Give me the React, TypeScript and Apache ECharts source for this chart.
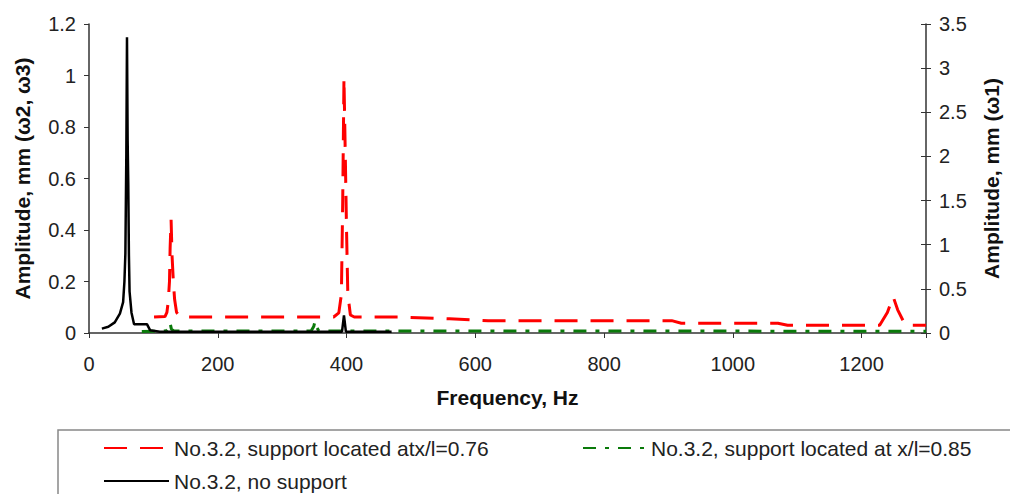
import React, { useEffect, useRef } from "react";
import * as echarts from "echarts";

// [frequency Hz, amplitude mm]
// support at x/l=0.76 (left axis, ω2, ω3)
const supportAt076: number[][] = [
  [101, 0.062], [118, 0.064], [121, 0.08], [123, 0.12], [125, 0.2], [126, 0.33],
  [127.5, 0.44], [129, 0.3], [131, 0.2], [133, 0.13], [136, 0.08], [142, 0.062],
  [380, 0.062], [388, 0.078], [392, 0.15], [394, 0.5], [396, 0.99], [398, 0.7],
  [400, 0.4], [402, 0.15], [406, 0.07], [412, 0.062], [480, 0.062], [560, 0.055],
  [620, 0.048], [905, 0.048], [920, 0.038], [1070, 0.038], [1085, 0.03],
  [1228, 0.03], [1240, 0.08], [1249, 0.141], [1256, 0.09], [1268, 0.03], [1300, 0.03],
];

// support at x/l=0.85 (left axis, ω2, ω3)
const supportAt085: number[][] = [
  [82, 0.006], [120, 0.008], [124, 0.02], [126, 0.038], [128, 0.015], [132, 0.008],
  [345, 0.008], [349, 0.025], [351, 0.045], [353, 0.025], [357, 0.008], [1300, 0.007],
];

// no support (right axis, ω1)
const noSupport: number[][] = [
  [20, 0.05], [30, 0.07], [40, 0.12], [48, 0.22], [53, 0.35], [55, 0.58],
  [56.5, 0.9], [58, 2.04], [59, 3.35], [60, 2.19], [61, 1.69], [62, 0.88],
  [63, 0.47], [66, 0.23], [70, 0.1], [90, 0.1], [95, 0.03], [110, 0.015],
  [393, 0.015], [396, 0.2], [399, 0.015], [470, 0.015],
];

const seriesNames = [
  "No.3.2, support located atx/l=0.76",
  "No.3.2, support located at x/l=0.85",
  "No.3.2, no support",
];

const xTickMax = 1200;

const FONT = "'Liberation Sans', Arial, sans-serif";

export default function App() {
  const ref = useRef<HTMLDivElement>(null);

  useEffect(() => {
    document.body.style.margin = "0";
    if (!ref.current) return;
    const chart = echarts.init(ref.current, null, { renderer: "svg" });
    const axisLabel = { color: "#222", fontSize: 20, fontFamily: FONT };
    const nameStyle = { color: "#111", fontSize: 21, fontWeight: "bold" as const, fontFamily: FONT };
    const axisLine = { show: true, lineStyle: { color: "#333", width: 1.5 } };
    const legendText = { color: "#222", fontSize: 21, fontFamily: FONT, lineHeight: 24 };
    const legendBase = {
      itemHeight: 14,
      padding: 0,
      textStyle: legendText,
      itemStyle: { opacity: 0 },
    };

    chart.setOption({
      animation: false,
      backgroundColor: "#fff",
      grid: { left: 89, right: 77, top: 24, bottom: 161 },
      xAxis: {
        type: "value",
        min: 0,
        max: 1300,
        interval: 200,
        name: "Frequency, Hz",
        nameLocation: "middle",
        nameGap: 54,
        nameTextStyle: nameStyle,
        axisLine,
        axisTick: { show: true, length: 5, lineStyle: { color: "#333" } },
        axisLabel: {
          ...axisLabel,
          margin: 21,
          formatter: (v: number) => (v > xTickMax ? "" : String(v)),
        },
        splitLine: { show: false },
      },
      yAxis: [
        {
          type: "value",
          position: "left",
          min: 0,
          max: 1.2,
          interval: 0.2,
          name: "Amplitude, mm (ω2, ω3)",
          nameLocation: "middle",
          nameGap: 56,
          nameRotate: 90,
          nameTextStyle: nameStyle,
          axisLine,
          axisTick: { show: true, length: 5, lineStyle: { color: "#333" } },
          axisLabel: { ...axisLabel, margin: 13 },
          splitLine: { show: false },
        },
        {
          type: "value",
          position: "right",
          min: 0,
          max: 3.5,
          interval: 0.5,
          name: "Amplitude, mm (ω1)",
          nameLocation: "middle",
          nameGap: 55,
          nameRotate: 90,
          nameTextStyle: nameStyle,
          axisLine,
          axisTick: { show: true, length: 5, lineStyle: { color: "#333" } },
          axisLabel: { ...axisLabel, margin: 13 },
          splitLine: { show: false },
        },
        {
          type: "value",
          position: "right",
          min: 0,
          max: 3.5,
          interval: 0.5,
          axisLine: { show: false },
          axisTick: { show: true, inside: true, length: 5, lineStyle: { color: "#333" } },
          axisLabel: { show: false },
          splitLine: { show: false },
        },
      ],
      legend: [
        { ...legendBase, data: [seriesNames[0]], left: 103, top: 436, itemWidth: 65 },
        { ...legendBase, data: [seriesNames[1]], left: 582, top: 436, itemWidth: 63 },
        { ...legendBase, data: [seriesNames[2]], left: 103, top: 469, itemWidth: 65 },
      ],
      graphic: [
        {
          type: "rect",
          shape: { x: 58, y: 430, width: 1000, height: 100 },
          style: { fill: "none", stroke: "#888", lineWidth: 1.5 },
          silent: true,
          z: -1,
        },
      ],
      series: [
        {
          name: seriesNames[0],
          type: "line",
          yAxisIndex: 0,
          data: supportAt076,
          symbol: "none",
          clip: true,
          lineStyle: { color: "#ff0000", width: 3, type: [23, 13] },
          itemStyle: { color: "#ff0000" },
          z: 3,
        },
        {
          name: seriesNames[1],
          type: "line",
          yAxisIndex: 0,
          data: supportAt085,
          symbol: "none",
          clip: true,
          lineStyle: { color: "#0a7a0a", width: 3, type: [13, 9, 4, 9] },
          itemStyle: { color: "#0a7a0a" },
          z: 2,
        },
        {
          name: seriesNames[2],
          type: "line",
          yAxisIndex: 1,
          data: noSupport,
          symbol: "none",
          clip: true,
          lineStyle: { color: "#000", width: 2.5, type: "solid" },
          itemStyle: { color: "#000" },
          z: 4,
        },
      ],
    });
    return () => chart.dispose();
  }, []);

  return <div ref={ref} style={{ width: 1010, height: 494 }} />;
}
